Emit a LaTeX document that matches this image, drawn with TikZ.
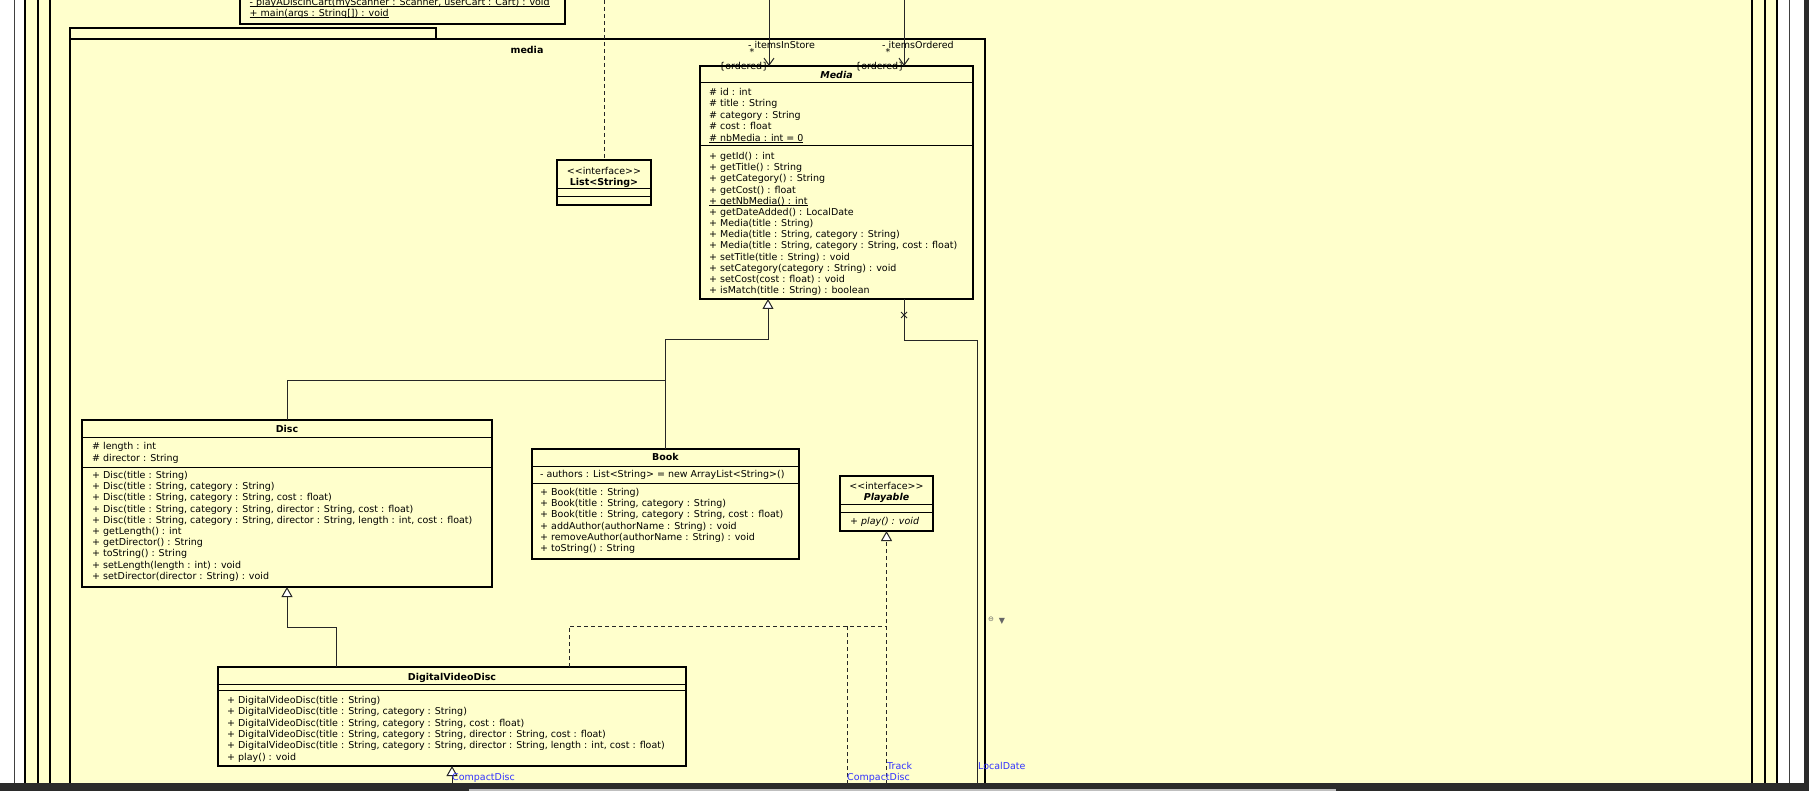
\documentclass[tikz,border=0pt]{standalone}
\usepackage{fontspec}
\newfontfamily\dv{DejaVu Sans}
\usetikzlibrary{arrows.meta}
\definecolor{ybg}{HTML}{FFFFCC}
\definecolor{lnk}{HTML}{3333FF}
\definecolor{darkbar}{HTML}{2B2B2B}
\newcommand\fs{\dv\fontsize{9.5}{11.25}\selectfont}
\newcommand\myul[1]{\setbox0=\hbox{#1}\rlap{\rule[-1.6pt]{\wd0}{0.8pt}}\box0}
\newcommand\umlrows[5]{\foreach \rowtext [count=\i from 0] in {#5} {\node[txt] (#1\i) at (#2,{#3+\i*#4}) {\rowtext};}}
\tikzset{
 box/.style={draw=black, line width=2pt, fill=ybg, inner sep=0pt, outer sep=0pt, anchor=north west},
 txt/.style={font=\fs, inner sep=0pt, anchor=base west},
 ttl/.style={font=\fs\bfseries, inner sep=0pt, anchor=base},
 stereo/.style={font=\fs, inner sep=0pt, anchor=base},
 sepl/.style={line width=1pt},
 conn/.style={line width=1pt, draw=black!85},
 gen/.style={conn, -{Triangle[length=10pt,width=11pt,fill=white]}},
 real/.style={conn, dash pattern=on 4pt off 3pt, -{Triangle[length=10pt,width=11pt,fill=white]}},
 dline/.style={conn, dash pattern=on 4pt off 3pt},
 assoc/.style={conn, -{Straight Barb[length=7pt,width=10pt]}},
 lbl/.style={font=\fs, inner sep=0pt, anchor=base west},
 linklbl/.style={font=\fs, text=lnk, inner sep=0pt, anchor=base west},
 frame/.style={line width=2pt, draw=black}
}
\begin{document}
\begin{tikzpicture}[x=1pt,y=-1pt]
\useasboundingbox (0,0) rectangle (1809,791);
\fill[white] (0,0) rectangle (1809,791);
\fill[ybg] (25,0) rectangle (1777,791);
% outer frames
\draw[line width=1pt, black!75] (14.5,0) -- (14.5,791);
\draw[line width=1pt, black!75] (1789,0) -- (1789,791);
\draw[frame] (25,0) -- (25,791);
\draw[frame] (37.5,0) -- (37.5,791);
\draw[frame] (50,0) -- (50,791);
\draw[frame] (1752,0) -- (1752,791);
\draw[frame] (1765,0) -- (1765,791);
\draw[frame] (1777,0) -- (1777,791);
% top class (cut)
\node[box, minimum width=325pt, minimum height=50pt] (main) at (240,-26) {};
\umlrows{mainm}{249.5}{5.5}{11}{{\myul{- playADiscInCart(myScanner : Scanner, userCart : Cart) : void}},{\myul{+ main(args : String[]) : void}}}
% package media
\node[box, minimum width=366pt, minimum height=11.6pt] (tab) at (70,27.7) {};
\node[box, minimum width=915pt, minimum height=800pt] (pkg) at (70,39.3) {};
\node[ttl] (pkglbl) at (527,54) {media};
% Media
\node[box, minimum width=273pt, minimum height=233pt] (media) at (700,66) {};
\node[ttl, font=\fs\bfseries\itshape] (mediat) at (836.5,78.5) {Media};
\draw[sepl] (media.west |- 0,83) -- (media.east |- 0,83);
\draw[sepl] (media.west |- 0,146) -- (media.east |- 0,146);
\umlrows{ma}{709}{95.5}{11.4}{{\# id : int},{\# title : String},{\# category : String},{\# cost : float},{\myul{\# nbMedia : int = 0}}}
\umlrows{mm}{709}{159.5}{11.17}{{+ getId() : int},{+ getTitle() : String},{+ getCategory() : String},{+ getCost() : float},{\myul{+ getNbMedia() : int}},{+ getDateAdded() : LocalDate},{+ Media(title : String)},{+ Media(title : String, category : String)},{+ Media(title : String, category : String, cost : float)},{+ setTitle(title : String) : void},{+ setCategory(category : String) : void},{+ setCost(cost : float) : void},{+ isMatch(title : String) : boolean}}
% List<String>
\node[box, minimum width=94pt, minimum height=45pt] (list) at (557,160) {};
\node[stereo] (listst) at (604,174.5) {<\kern0pt<interface>\kern0pt>};
\node[ttl] (listt) at (604,185.5) {List<String>};
\draw[sepl] (list.west |- 0,189) -- (list.east |- 0,189);
\draw[sepl] (list.west |- 0,197) -- (list.east |- 0,197);
% Disc
\node[box, minimum width=410pt, minimum height=167pt] (disc) at (82,420) {};
\node[ttl] (disct) at (287,432.5) {Disc};
\draw[sepl] (disc.west |- 0,437) -- (disc.east |- 0,437);
\draw[sepl] (disc.west |- 0,467) -- (disc.east |- 0,467);
\umlrows{da}{92}{449.5}{11.5}{{\# length : int},{\# director : String}}
\umlrows{dm}{92}{478.5}{11.2}{{+ Disc(title : String)},{+ Disc(title : String, category : String)},{+ Disc(title : String, category : String, cost : float)},{+ Disc(title : String, category : String, director : String, cost : float)},{+ Disc(title : String, category : String, director : String, length : int, cost : float)},{+ getLength() : int},{+ getDirector() : String},{+ toString() : String},{+ setLength(length : int) : void},{+ setDirector(director : String) : void}}
% Book
\node[box, minimum width=267pt, minimum height=110pt] (book) at (532,449) {};
\node[ttl] (bookt) at (665.5,460.5) {Book};
\draw[sepl] (book.west |- 0,466) -- (book.east |- 0,466);
\draw[sepl] (book.west |- 0,483) -- (book.east |- 0,483);
\node[txt] (ba0) at (540,477.5) {- authors : List<String> = new ArrayList<String>()};
\umlrows{bm}{540}{495.5}{11.2}{{+ Book(title : String)},{+ Book(title : String, category : String)},{+ Book(title : String, category : String, cost : float)},{+ addAuthor(authorName : String) : void},{+ removeAuthor(authorName : String) : void},{+ toString() : String}}
% Playable
\node[box, minimum width=93pt, minimum height=55pt] (playable) at (840,476) {};
\node[stereo] (playst) at (886.5,489.5) {<\kern0pt<interface>\kern0pt>};
\node[ttl, font=\fs\bfseries\itshape] (playt) at (886.5,500.5) {Playable};
\draw[sepl] (playable.west |- 0,504) -- (playable.east |- 0,504);
\draw[sepl] (playable.west |- 0,512) -- (playable.east |- 0,512);
\node[txt, font=\fs\itshape] (pm0) at (850,524.5) {+ play() : void};
% DigitalVideoDisc
\node[box, minimum width=468pt, minimum height=99pt] (dvd) at (218,667) {};
\node[ttl] (dvdt) at (452,680.5) {DigitalVideoDisc};
\draw[sepl] (dvd.west |- 0,684) -- (dvd.east |- 0,684);
\draw[sepl] (dvd.west |- 0,690) -- (dvd.east |- 0,690);
\umlrows{vm}{227}{703.5}{11.3}{{+ DigitalVideoDisc(title : String)},{+ DigitalVideoDisc(title : String, category : String)},{+ DigitalVideoDisc(title : String, category : String, cost : float)},{+ DigitalVideoDisc(title : String, category : String, director : String, cost : float)},{+ DigitalVideoDisc(title : String, category : String, director : String, length : int, cost : float)},{+ play() : void}}
% free ends
\coordinate (topA) at (769,0);
\coordinate (topB) at (904,0);
\coordinate (topL) at (604,0);
\coordinate (trk) at (886.5,791);
\coordinate (cd2) at (847,791);
\coordinate (cd1) at (452,791);
\coordinate (ldbot) at (977,791);
% connectors
\draw[assoc] (topA) -- (topA |- media.north);
\draw[assoc] (topB) -- (topB |- media.north);
\draw[dline] (topL) -- (list.north);
\draw[gen] (book.north) |- (768,340) -- ([xshift=68pt]media.south west);
\draw[conn] (disc.north) |- (book.north |- 0,380);
\draw[conn] ([xshift=204pt]media.south west) |- (977,341) -- (ldbot);
\draw[conn] (901,312) -- (907,318) (901,318) -- (907,312);
\draw[gen] ([xshift=118pt]dvd.north west) |- (disc.south |- 0,627) -- (disc.south);
\draw[dline] ([xshift=351pt]dvd.north west) |- (playable.south |- 0,626);
\draw[real] (trk) -- (playable.south);
\draw[dline] (cd2) -- (cd2 |- 0,626);
\draw[gen] (cd1) -- (cd1 |- dvd.south);
% association labels
\node[lbl] (r1) at (748,48.5) {- itemsInStore};
\node[lbl] (m1) at (749.5,55.5) {*};
\node[lbl] (o1) at (719,69.5) {\{ordered\}};
\node[lbl] (r2) at (882,48.5) {- itemsOrdered};
\node[lbl] (m2) at (885.5,55.5) {*};
\node[lbl] (o2) at (855,69.5) {\{ordered\}};
% link labels
\node[linklbl] (l1) at (452,780.5) {CompactDisc};
\node[linklbl] (l2) at (847,780.5) {CompactDisc};
\node[linklbl] (l3) at (887,769.5) {Track};
\node[linklbl] (l4) at (978,769.5) {LocalDate};
% icons
\node[inner sep=0pt, font=\dv\fontsize{7}{7}\selectfont, text=black!60] (ic1) at (991,619) {⊖};
\node[inner sep=0pt, font=\dv\fontsize{8}{8}\selectfont, text=black!60] (ic2) at (1002,621) {▼};
% window bars
\fill[darkbar] (1804,0) rectangle (1809,791);
\fill[darkbar] (0,782.7) rectangle (1809,791);
\fill[black!25] (469,789) rectangle (1336,791);
\end{tikzpicture}
\end{document}
